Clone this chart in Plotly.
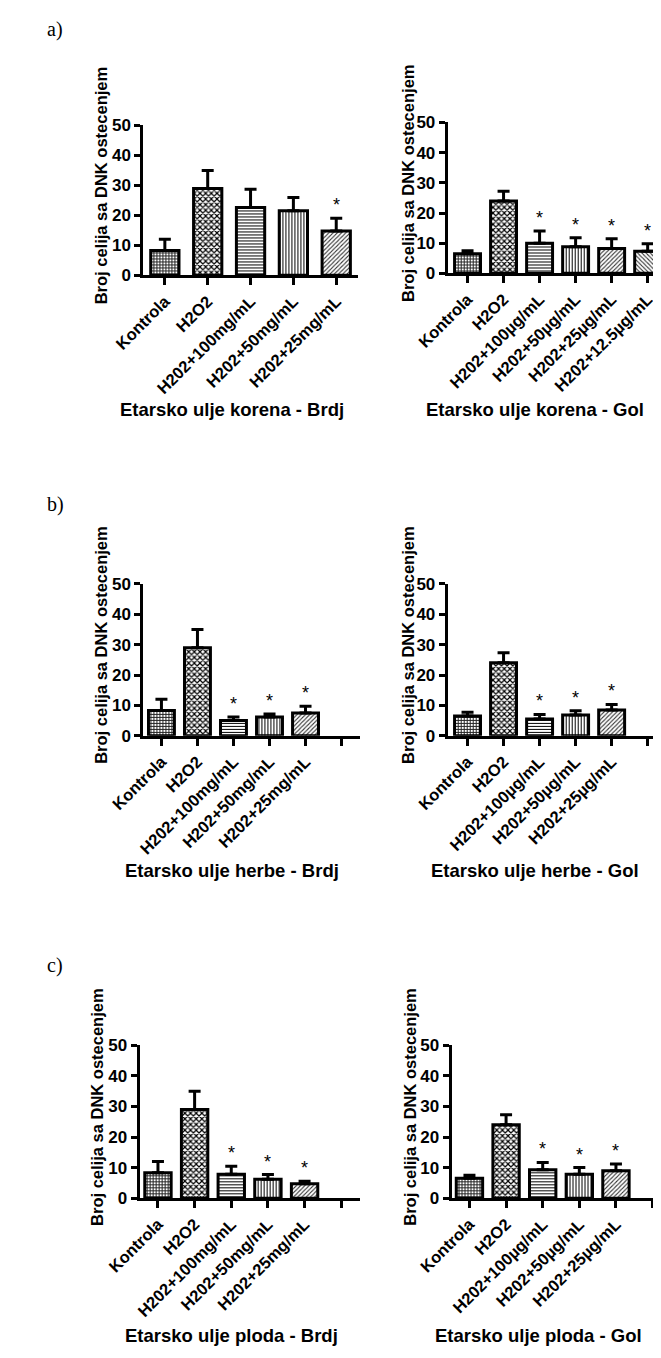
import plotly.graph_objects as go

# page body has an 8px default margin; figure is sized/positioned to compensate
OFF = 8
W, H = 661 - OFF, 1358 - OFF

# ---------------- data ----------------
cats_korena_brdj = ["Kontrola", "H2O2", "H202+100mg/mL", "H202+50mg/mL", "H202+25mg/mL"]
cats_korena_gol = ["Kontrola", "H2O2", "H202+100µg/mL", "H202+50µg/mL", "H202+25µg/mL", "H202+12.5µg/mL"]
cats_mg = ["Kontrola", "H2O2", "H202+100mg/mL", "H202+50mg/mL", "H202+25mg/mL", ""]
cats_ug = ["Kontrola", "H2O2", "H202+100µg/mL", "H202+50µg/mL", "H202+25µg/mL", ""]

korena_brdj_vals = [8.3, 29.0, 22.6, 21.5, 14.8]
korena_brdj_err = [3.7, 6.0, 6.1, 4.5, 4.2]
korena_brdj_star = [0, 0, 0, 0, 1]

korena_gol_vals = [6.5, 24.0, 10.0, 8.8, 8.2, 7.3]
korena_gol_err = [1.0, 3.2, 4.0, 3.0, 3.3, 2.5]
korena_gol_star = [0, 0, 1, 1, 1, 1]

herbe_brdj_vals = [8.3, 29.0, 5.0, 6.2, 7.5]
herbe_brdj_err = [3.7, 6.0, 1.2, 1.0, 2.2]
herbe_brdj_star = [0, 0, 1, 1, 1]

herbe_gol_vals = [6.5, 24.0, 5.5, 6.8, 8.5]
herbe_gol_err = [1.2, 3.3, 1.5, 1.4, 1.8]
herbe_gol_star = [0, 0, 1, 1, 1]

ploda_brdj_vals = [8.3, 29.0, 7.8, 6.2, 4.7]
ploda_brdj_err = [3.7, 6.0, 2.6, 1.5, 0.8]
ploda_brdj_star = [0, 0, 1, 1, 1]

ploda_gol_vals = [6.5, 24.0, 9.3, 7.8, 9.0]
ploda_gol_err = [1.0, 3.3, 2.4, 2.2, 2.2]
ploda_gol_star = [0, 0, 1, 1, 1]

y_ticks = [0, 10, 20, 30, 40, 50]
y_title = "Broj celija sa DNK ostecenjem"

# ---------------- layout of panels (pixel boxes in the page) ----------------
panels = [
    dict(cats=cats_korena_brdj, vals=korena_brdj_vals, errs=korena_brdj_err, stars=korena_brdj_star,
         title="Etarsko ulje korena - Brdj", box=(115, 341, 118, 270), xr=(-0.5, 4.5), bw=0.66,
         ytx=70, tx=208, ty=406),
    dict(cats=cats_korena_gol, vals=korena_gol_vals, errs=korena_gol_err, stars=korena_gol_star,
         title="Etarsko ulje korena - Gol", box=(436, 661, 115, 268), xr=(-0.55, 5.37), bw=0.72,
         ytx=394, tx=528, ty=406),
    dict(cats=cats_mg, vals=herbe_brdj_vals, errs=herbe_brdj_err, stars=herbe_brdj_star,
         title="Etarsko ulje herbe - Brdj", box=(115, 343, 583, 737), xr=(-0.5, 5.5), bw=0.72,
         ytx=70, tx=208, ty=874),
    dict(cats=cats_ug, vals=herbe_gol_vals, errs=herbe_gol_err, stars=herbe_gol_star,
         title="Etarsko ulje herbe - Gol", box=(436, 661, 583, 737), xr=(-0.55, 5.37), bw=0.72,
         ytx=394, tx=528, ty=874),
    dict(cats=cats_mg, vals=ploda_brdj_vals, errs=ploda_brdj_err, stars=ploda_brdj_star,
         title="Etarsko ulje ploda - Brdj", box=(111, 343, 1051, 1206), xr=(-0.5, 5.5), bw=0.72,
         ytx=66, tx=208, ty=1345),
    dict(cats=cats_ug, vals=ploda_gol_vals, errs=ploda_gol_err, stars=ploda_gol_star,
         title="Etarsko ulje ploda - Gol", box=(440, 661, 1051, 1206), xr=(-0.49, 5.23), bw=0.72,
         ytx=396, tx=532, ty=1345),
]

shapes_pat = ["+", "x", "-", "|", "/", "\\"]
sizes_pat = [3, 4, 3, 3, 3, 3]
solid_pat = [0.55, 0.5, 0.33, 0.33, 0.35, 0.35]
fg_pat = ["#222222", "black", "black", "black", "#333333", "#333333"]

FONT = "Liberation Sans"

fig = go.Figure()
annotations = []
layout = dict(width=W, height=H, margin=dict(l=0, r=0, t=0, b=0),
              paper_bgcolor="white", plot_bgcolor="white", showlegend=False)


def px(x):
    return (x - OFF) / W


def py(y):
    return 1 - (y - OFF) / H


for i, p in enumerate(panels):
    k = "" if i == 0 else str(i + 1)
    xa, ya = "x" + k, "y" + k
    n = len(p["vals"])
    xs = list(range(n))
    fig.add_trace(go.Bar(
        x=xs, y=p["vals"], xaxis=xa, yaxis=ya, width=p["bw"],
        marker=dict(color="white", line=dict(color="black", width=3),
                    pattern=dict(shape=shapes_pat[:n], size=sizes_pat[:n], solidity=solid_pat[:n],
                                 fgcolor=fg_pat[:n], bgcolor="white", fillmode="replace")),
        error_y=dict(type="data", symmetric=False, array=p["errs"], arrayminus=[0] * n,
                     color="black", thickness=3, width=6),
    ))
    x0, x1, ytop, ybot = p["box"]
    layout["xaxis" + k] = dict(
        domain=[px(x0), min(1.0, px(x1))], anchor=ya, range=list(p["xr"]),
        tickvals=list(range(len(p["cats"]))), ticktext=p["cats"], tickangle=-45,
        ticks="outside", ticklen=7, tickwidth=3, tickcolor="black",
        showline=True, linecolor="black", linewidth=3, showgrid=False, zeroline=False,
        tickfont=dict(family=FONT, size=16.5, color="black", weight="bold"),
    )
    layout["yaxis" + k] = dict(
        domain=[py(ybot), py(ytop)], anchor=xa, range=[0, 50],
        tickvals=y_ticks, ticks="outside", ticklen=6, tickwidth=3, tickcolor="black",
        showline=True, linecolor="black", linewidth=3, showgrid=False, zeroline=False,
        tickfont=dict(family=FONT, size=17, color="black", weight="bold"),
    )
    for j, s in enumerate(p["stars"]):
        if s:
            annotations.append(dict(
                x=j, y=p["vals"][j] + p["errs"][j], xref=xa, yref=ya, text="*", showarrow=False,
                yanchor="bottom", yshift=1,
                font=dict(family=FONT, size=18, color="black")))
    annotations.append(dict(
        x=px(p["ytx"]), y=py((ytop + ybot) / 2 - 15), xref="paper", yref="paper", text=y_title,
        textangle=-90, showarrow=False, xanchor="center", yanchor="middle",
        font=dict(family=FONT, size=16.5, color="black", weight="bold")))
    annotations.append(dict(
        x=px(p["tx"]), y=py(p["ty"]), xref="paper", yref="paper", text=p["title"],
        showarrow=False, xanchor="center", yanchor="middle",
        font=dict(family=FONT, size=18.5, color="black", weight="bold")))

for lbl, yy in [("a)", 21), ("b)", 502), ("c)", 970)]:
    annotations.append(dict(
        x=px(22), y=py(yy), xref="paper", yref="paper", text=lbl, showarrow=False,
        xanchor="center", yanchor="middle",
        font=dict(family="Liberation Serif", size=20, color="black")))

layout["annotations"] = annotations
fig.update_layout(**layout)
fig.write_html("out.html")
